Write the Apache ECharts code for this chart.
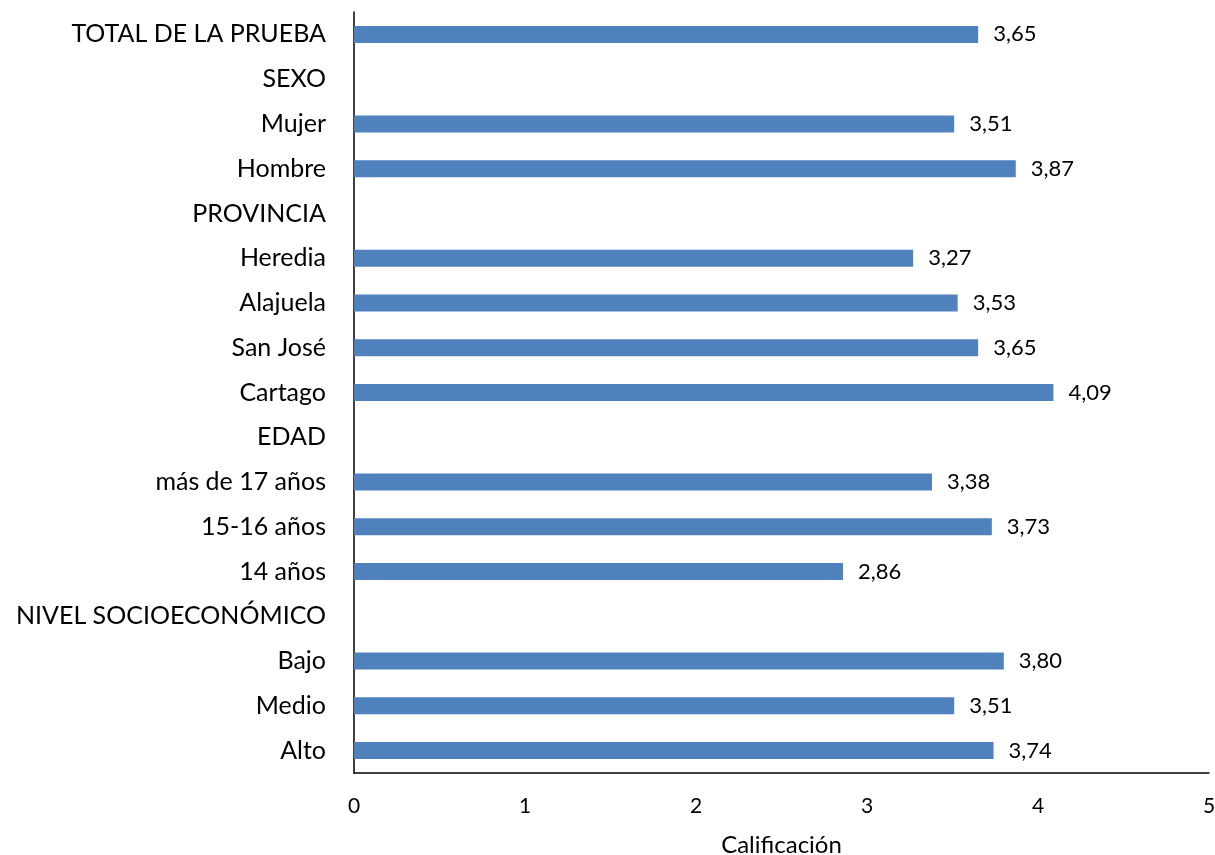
<!DOCTYPE html>
<html>
<head>
<meta charset="utf-8">
<script src="https://cdn.jsdelivr.net/npm/echarts@6/dist/echarts.min.js"></script>
<style>
  html, body { margin: 0; padding: 0; background: #fff; }
  #chart { width: 1215px; height: 855px; }
</style>
</head>
<body>
<div id="chart"></div>
<script>
  // categorías de arriba hacia abajo
  var categories = ['TOTAL DE LA PRUEBA', 'SEXO', 'Mujer', 'Hombre', 'PROVINCIA', 'Heredia', 'Alajuela',
    'San José', 'Cartago', 'EDAD', 'más de 17 años', '15-16 años', '14 años', 'NIVEL SOCIOECONÓMICO',
    'Bajo', 'Medio', 'Alto']
  var values = [3.65, null, 3.51, 3.87, null, 3.27, 3.53, 3.65, 4.09, null, 3.38, 3.73, 2.86, null, 3.80, 3.51, 3.74]
  var xTicks = [0, 1, 2, 3, 4, 5]

  var myChart = echarts.init(document.getElementById('chart'))
  var font = 'Lato, "Open Sans", sans-serif'

  var option = {
    animation: false,
    grid: { left: 354, right: 6, top: 12, bottom: 82, outerBoundsMode: 'none', containLabel: false },
    xAxis: {
      type: 'value',
      min: xTicks[0],
      max: xTicks[xTicks.length - 1],
      interval: 1,
      name: 'Calificación',
      nameLocation: 'middle',
      nameGap: 60,
      nameTextStyle: { fontFamily: font, fontSize: 24, color: '#000' },
      axisLine: { show: true, lineStyle: { color: '#000', width: 1.5 } },
      axisTick: { show: false },
      splitLine: { show: false },
      axisLabel: { fontFamily: font, fontSize: 21, color: '#000', margin: 23 }
    },
    yAxis: {
      type: 'category',
      data: categories,
      inverse: true,
      axisLine: { show: true, lineStyle: { color: '#000', width: 1.5 } },
      axisTick: { show: false },
      axisLabel: { fontFamily: font, fontSize: 25, color: '#000', margin: 28 }
    },
    series: [{
      type: 'bar',
      data: values,
      barWidth: 17,
      itemStyle: { color: '#4F81BD' },
      label: {
        show: true,
        position: 'right',
        distance: 15,
        fontFamily: font,
        fontSize: 22,
        color: '#000',
        formatter: function (p) {
          return p.value == null ? '' : p.value.toFixed(2).replace('.', ',')
        }
      }
    }]
  }

  myChart.setOption(option, true)
</script>
</body>
</html>
